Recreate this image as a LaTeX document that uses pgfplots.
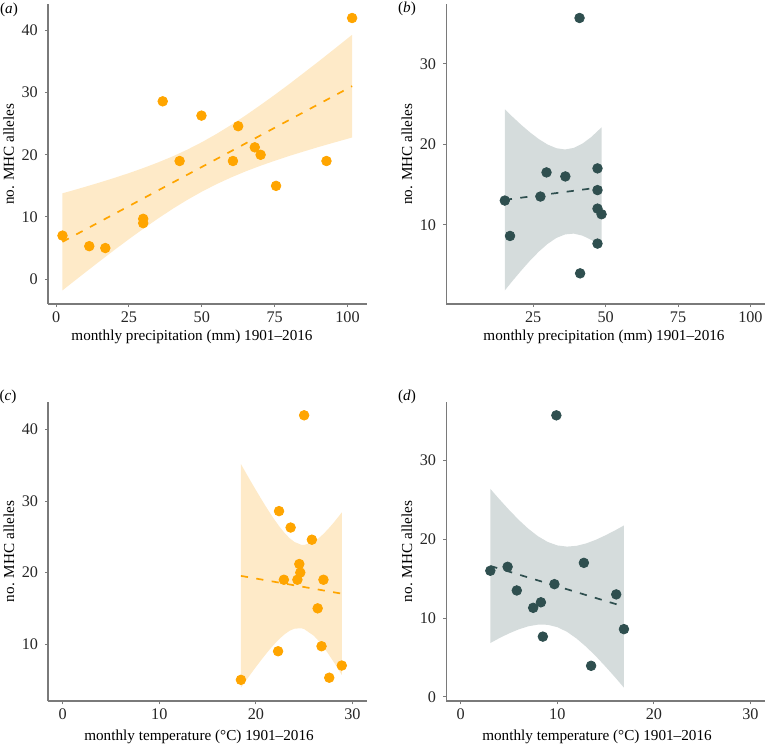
\documentclass[border=0pt]{standalone}
\usepackage{fontspec}
\setmainfont{Liberation Serif}
\usepackage{pgfplots}
\pgfplotsset{compat=1.18}
\definecolor{orng}{HTML}{FFA500}
\definecolor{orngfill}{HTML}{FEEAC8}
\definecolor{dslate}{HTML}{2F4F4F}
\definecolor{dslatefill}{HTML}{D5DCDC}
\definecolor{axgray}{HTML}{7A7A7A}
\pgfplotsset{
  panel/.style={
    scale only axis, width=159.3pt, height=149.8pt,
    axis x line=bottom, axis y line=left,
    axis line style={-, axgray, line width=0.8pt},
    tick align=outside, major tick length=1.6pt,
    tick style={axgray, line width=0.5pt},
    minor tick num=0,
    clip=false,
    /pgf/number format/assume math mode=true,
    tick label style={font=\fontsize{8.1}{9}\selectfont, text=black!85},
    xticklabel style={yshift=1.2pt},
    label style={font=\fontsize{7.6}{9}\selectfont, text=black},
    ylabel={no. MHC alleles},
    ylabel style={at={(axis description cs:0,0.5)}, anchor=center, yshift=19.7pt},
  },
  ptO/.style={only marks, mark=*, mark size=2.4pt, orng, mark options={draw=none, fill=orng}},
  ptD/.style={only marks, mark=*, mark size=2.4pt, dslate, mark options={draw=none, fill=dslate}},
  lnO/.style={orng, line width=0.85pt, dash pattern=on 3.6pt off 4.2pt, no marks},
  lnD/.style={dslate, line width=0.85pt, dash pattern=on 3.6pt off 4.2pt, no marks},
}
\begin{document}
\begin{tikzpicture}
% ---------------- (a) ----------------
\begin{axis}[panel, at={(24pt,220.5pt)}, anchor=south west,
  xmin=-2.77, xmax=106.57, ymin=-4.0, ymax=44.19,
  xtick={0,25,50,75,100}, ytick={0,10,20,30,40},
  xlabel={monthly precipitation (mm) 1901--2016},
  xlabel style={at={(axis description cs:0,0)}, anchor=center, xshift=72pt, yshift=-16.35pt}]
\addplot[fill=orngfill, draw=none] coordinates {
 (2.2,13.81) (5,14.17) (10,14.85) (15,15.55) (20,16.28) (25,17.05) (30,17.88) (35,18.77)
 (40,19.74) (45,20.82) (50,22.02) (55,23.34) (60,24.78) (65,26.32) (70,27.95) (75,29.63)
 (80,31.37) (85,33.17) (90,34.98) (95,36.83) (101.6,39.30)
 (101.6,22.78) (95,21.91) (90,21.24) (85,20.53) (80,19.81) (75,19.03) (70,18.21) (65,17.32)
 (60,16.34) (55,15.26) (50,14.06) (45,12.74) (40,11.30) (35,9.75) (30,8.12) (25,6.43)
 (20,4.68) (15,2.89) (10,1.07) (5,-0.77) (2.2,-1.81)} -- cycle;
\addplot[lnO] coordinates {(2.2,6.0) (101.6,31.04)};
\addplot[ptO] coordinates {
 (2.2,7.0) (11.4,5.3) (16.9,5.0) (29.9,9.7) (29.9,9.0) (36.6,28.6) (42.4,19.0) (49.9,26.3)
 (60.7,19.0) (62.5,24.6) (68.2,21.2) (70.2,20.0) (75.5,15.0) (92.8,19.0) (101.6,42.0)};
\end{axis}
% ---------------- (b) ----------------
\begin{axis}[panel, at={(223.15pt,220.5pt)}, anchor=south west,
  xmin=-5, xmax=105, ymin=0.14, ymax=37.39,
  xtick={25,50,75,100}, ytick={10,20,30},
  xlabel={monthly precipitation (mm) 1901--2016},
  xlabel style={at={(axis description cs:0,0)}, anchor=center, xshift=78.85pt, yshift=-16.35pt}]
\addplot[fill=dslatefill, draw=none] coordinates {
 (15.2,24.35) (18,23.37) (21,22.37) (24,21.45) (27,20.63) (30,19.96) (33,19.51) (36,19.35)
 (39,19.55) (42,20.08) (45,20.88) (48.6,22.10)
 (48.6,7.24) (45,8.12) (42,8.64) (39,8.89) (36,8.79) (33,8.35) (30,7.62) (27,6.67)
 (24,5.57) (21,4.35) (18,3.07) (15.2,1.83)} -- cycle;
\addplot[lnD] coordinates {(15.2,13.09) (48.6,14.67)};
\addplot[ptD] coordinates {
 (15.2,13.0) (17.0,8.6) (27.5,13.5) (29.6,16.5) (36.1,16.0) (41.0,35.7) (41.2,3.95)
 (47.2,17.0) (47.2,14.3) (47.2,12.0) (47.2,7.65) (48.6,11.3)};
\end{axis}
% ---------------- (c) ----------------
\begin{axis}[panel, at={(24.15pt,21.85pt)}, anchor=south west,
  xmin=-1.5, xmax=31.5, ymin=2.0, ymax=43.9,
  xtick={0,10,20,30}, ytick={10,20,30,40},
  xlabel={monthly temperature (°C) 1901--2016},
  xlabel style={at={(axis description cs:0,0)}, anchor=center, xshift=75.35pt, yshift=-17.85pt}]
\addplot[fill=orngfill, draw=none] coordinates {
 (18.45,35.18) (19,33.88) (19.5,32.70) (20,31.55) (20.5,30.42) (21,29.32) (21.5,28.26)
 (22,27.26) (22.5,26.33) (23,25.50) (23.5,24.81) (24,24.28) (24.7,23.89) (25,23.86)
 (26,24.31) (26.5,24.80) (27,25.41) (27.5,26.12) (28,26.89) (28.5,27.73) (28.9,28.42)
 (28.9,5.68) (28.5,6.57) (28,7.63) (27.5,8.64) (27,9.59) (26.5,10.44) (26,11.17)
 (25,12.10) (24.7,12.21) (24,12.16) (23.5,11.87) (23,11.40) (22.5,10.81) (22,10.12)
 (21.5,9.36) (21,8.54) (20.5,7.68) (20,6.79) (19.5,5.88) (19,4.94) (18.45,3.90)} -- cycle;
\addplot[lnO] coordinates {(18.45,19.54) (28.9,17.05)};
\addplot[ptO] coordinates {
 (18.45,5.0) (22.4,28.6) (22.3,9.0) (22.9,19.0) (23.6,26.3) (25.0,42.0) (24.3,19.0)
 (24.5,21.2) (24.6,20.0) (25.8,24.6) (27.0,19.0) (26.4,15.0) (26.8,9.7) (27.6,5.3) (28.9,7.0)};
\end{axis}
% ---------------- (d) ----------------
\begin{axis}[panel, at={(223.15pt,21.85pt)}, anchor=south west,
  xmin=-1.5, xmax=31.5, ymin=-0.55, ymax=37.43,
  xtick={0,10,20,30}, ytick={0,10,20,30},
  xlabel={monthly temperature (°C) 1901--2016},
  xlabel style={at={(axis description cs:0,0)}, anchor=center, xshift=75.35pt, yshift=-17.85pt}]
\addplot[fill=dslatefill, draw=none] coordinates {
 (3.06,26.38) (4,25.06) (5,23.72) (6,22.45) (7,21.32) (8,20.37) (9,19.65) (10,19.21)
 (11,19.06) (12,19.16) (13,19.47) (14,19.93) (15,20.50) (16,21.13) (16.9,21.74)
 (16.9,1.18) (16,2.47) (15,3.84) (14,5.15) (13,6.35) (12,7.40) (11,8.26) (10,8.85)
 (9,9.15) (8,9.17) (7,8.96) (6,8.57) (5,8.06) (4,7.46) (3.06,6.84)} -- cycle;
\addplot[lnD] coordinates {(3.06,16.61) (16.9,11.46)};
\addplot[ptD] coordinates {
 (3.06,16.0) (4.85,16.5) (5.8,13.5) (7.5,11.3) (8.3,12.0) (8.5,7.65) (9.7,14.3) (9.9,35.7)
 (12.75,17.0) (13.5,3.95) (16.1,13.0) (16.9,8.6)};
\end{axis}
\node[font=\fontsize{7.6}{9}\selectfont] at (4.5pt,367.5pt) {(\textit{a})};
\node[font=\fontsize{7.6}{9}\selectfont] at (203.5pt,368pt) {(\textit{b})};
\node[font=\fontsize{7.6}{9}\selectfont] at (4pt,174pt) {(\textit{c})};
\node[font=\fontsize{7.6}{9}\selectfont] at (203.5pt,174pt) {(\textit{d})};
\pgfresetboundingbox
\useasboundingbox (0,0) rectangle (383.5pt,372.5pt);
\end{tikzpicture}
\end{document}
